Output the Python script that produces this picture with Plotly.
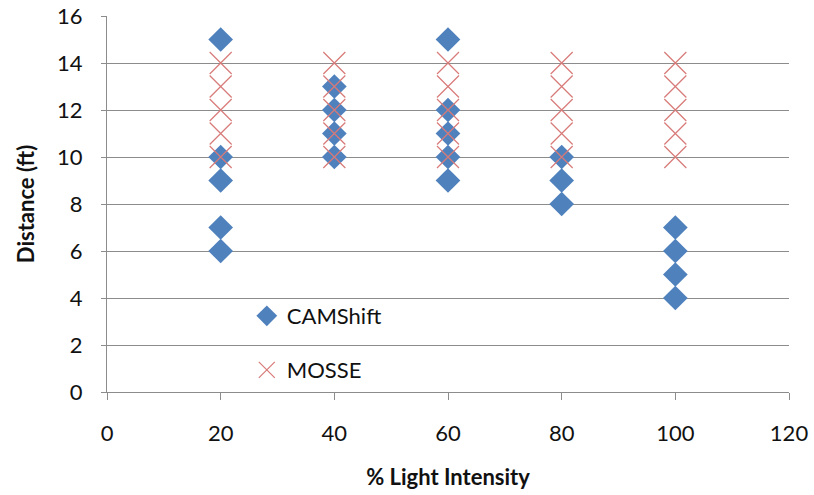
import plotly.graph_objects as go

# Data
camshift_x = [20, 20, 20, 20, 20, 40, 40, 40, 40, 60, 60, 60, 60, 60, 80, 80, 80, 100, 100, 100, 100]
camshift_y = [15, 10, 9, 7, 6, 13, 12, 11, 10, 15, 12, 11, 10, 9, 10, 9, 8, 7, 6, 5, 4]

mosse_x = [20, 20, 20, 20, 20, 40, 40, 40, 40, 40, 60, 60, 60, 60, 60,
           80, 80, 80, 80, 80, 100, 100, 100, 100, 100]
mosse_y = [14, 13, 12, 11, 10, 14, 13, 12, 11, 10, 14, 13, 12, 11, 10,
           14, 13, 12, 11, 10, 14, 13, 12, 11, 10]

x_ticks = [0, 20, 40, 60, 80, 100, 120]
y_ticks = [0, 2, 4, 6, 8, 10, 12, 14, 16]

FONT = "Lato"
GRID = "#8c8c8c"
TXT = "#111111"

fig = go.Figure()
fig.add_trace(go.Scatter(
    x=camshift_x, y=camshift_y, mode="markers", name="CAMShift",
    marker=dict(symbol="diamond", size=19, color="#4F81BD", line=dict(width=0)),
    legend="legend", showlegend=True,
))
fig.add_trace(go.Scatter(
    x=mosse_x, y=mosse_y, mode="markers", name="MOSSE",
    marker=dict(symbol="x-thin-open", size=22, color="#D77A78",
                line=dict(width=1.2, color="#D77A78")),
    legend="legend2", showlegend=True,
))

fig.update_layout(
    width=814, height=495,
    margin=dict(l=107, r=25, t=16, b=103),
    paper_bgcolor="white", plot_bgcolor="white",
    showlegend=True,
    font=dict(family=FONT, size=22, color=TXT),
    legend=dict(x=0.205, y=0.202, xanchor="left", yanchor="middle",
                bgcolor="rgba(0,0,0,0)", borderwidth=0,
                font=dict(family=FONT, size=22, color=TXT)),
    legend2=dict(x=0.205, y=0.0585, xanchor="left", yanchor="middle",
                 bgcolor="rgba(0,0,0,0)", borderwidth=0,
                 font=dict(family=FONT, size=22, color=TXT)),
    annotations=[dict(
        text="<b>Distance (ft)</b>", textangle=-90,
        xref="paper", yref="paper", x=-0.12, y=0.5,
        xanchor="center", yanchor="middle", showarrow=False,
        font=dict(family=FONT, size=22, color=TXT),
    )],
)

fig.update_xaxes(
    range=[0, 120], tickvals=x_ticks, showgrid=False, zeroline=False,
    showline=True, linecolor=GRID, linewidth=1.3, automargin=False,
    ticks="outside", ticklen=7, tickcolor=GRID, tickwidth=1.3,
    ticklabelstandoff=14,
    tickfont=dict(family=FONT, size=22, color=TXT),
    title=dict(text="<b>% Light Intensity</b>", standoff=25,
               font=dict(family=FONT, size=22, color=TXT)),
)
fig.update_yaxes(
    range=[0, 16], tickvals=y_ticks, showgrid=True, gridcolor=GRID, gridwidth=1.3,
    zeroline=False, showline=True, linecolor=GRID, linewidth=1.3, automargin=False,
    ticks="outside", ticklen=5, tickcolor=GRID, tickwidth=1.3,
    ticklabelstandoff=14,
    tickfont=dict(family=FONT, size=22, color=TXT),
)

fig.write_html("out.html")
